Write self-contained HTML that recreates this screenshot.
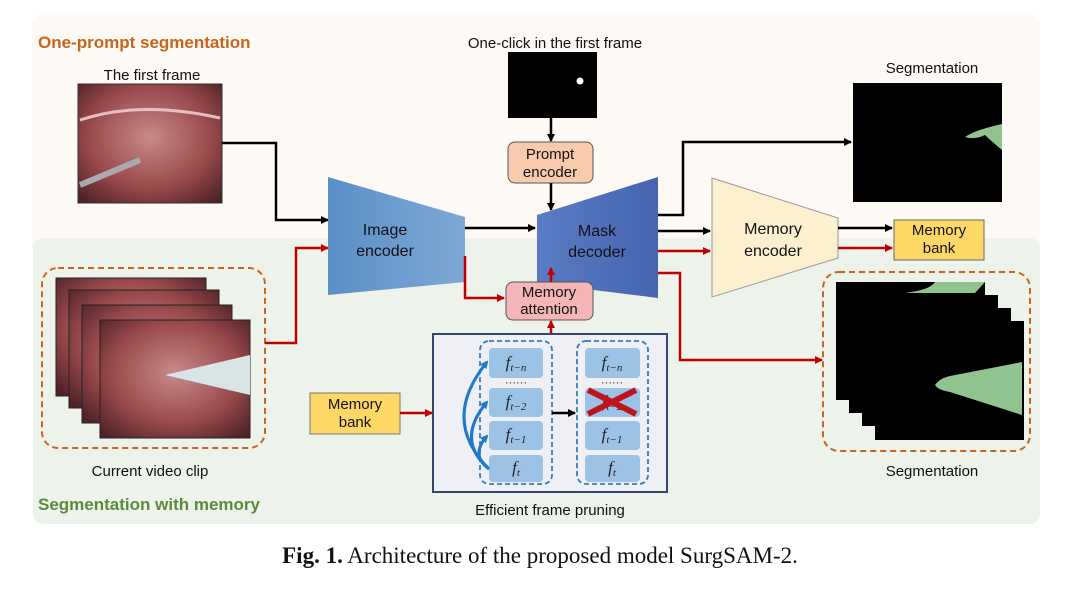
<!DOCTYPE html>
<html><head><meta charset="utf-8"><style>
body{margin:0;background:#fff;}
svg{display:block;}
text{font-family:"Liberation Sans",sans-serif;}
text.serif{font-family:"Liberation Serif",serif;}
</style></head><body>
<svg width="1080" height="589" viewBox="0 0 1080 589" xmlns="http://www.w3.org/2000/svg">
<defs>
<marker id="ab" markerWidth="8" markerHeight="8" refX="7" refY="4" orient="auto" markerUnits="userSpaceOnUse"><path d="M0,0 L8,4 L0,8 z" fill="#000"/></marker>
<marker id="ar" markerWidth="8" markerHeight="8" refX="7" refY="4" orient="auto" markerUnits="userSpaceOnUse"><path d="M0,0 L8,4 L0,8 z" fill="#c00000"/></marker>
<marker id="abl" markerWidth="8" markerHeight="8" refX="6" refY="4" orient="auto" markerUnits="userSpaceOnUse"><path d="M0,0 L8,4 L0,8 z" fill="#1f78c8"/></marker>
<radialGradient id="tis" cx="0.5" cy="0.45" r="0.7"><stop offset="0" stop-color="#c88a8a"/><stop offset="0.6" stop-color="#9a4a4c"/><stop offset="1" stop-color="#4e2226"/></radialGradient>
<linearGradient id="enc" x1="0" y1="0" x2="1" y2="0"><stop offset="0" stop-color="#5b8fc8"/><stop offset="1" stop-color="#7ea8d4"/></linearGradient>
<linearGradient id="dec" x1="0" y1="0" x2="1" y2="0"><stop offset="0" stop-color="#5a7cc4"/><stop offset="1" stop-color="#4565b0"/></linearGradient>
</defs>
<!-- panels -->
<rect x="32" y="15" width="1008" height="240" rx="10" fill="#fdf9f4"/>
<rect x="33" y="238" width="1007" height="286" rx="10" fill="#edf3ea"/>
<text x="38" y="48" font-size="17" font-weight="bold" fill="#c8651c">One-prompt segmentation</text>
<text x="38" y="510" font-size="17" font-weight="bold" fill="#5b8b3a">Segmentation with memory</text>

<!-- first frame -->
<text x="152" y="80" font-size="15" text-anchor="middle" fill="#111">The first frame</text>
<rect x="78" y="84" width="144" height="119" fill="url(#tis)" stroke="#333"/>
<path d="M80,120 Q140,100 220,118" stroke="#e6c0c0" stroke-width="3" fill="none"/>
<path d="M80,185 L140,160" stroke="#aaa" stroke-width="6"/>
<polyline points="222,143 276,143 276,220 328,220" fill="none" stroke="#000" stroke-width="2.5" marker-end="url(#ab)"/>

<!-- video clip -->
<rect x="42" y="268" width="223" height="180" rx="16" fill="none" stroke="#c8651c" stroke-width="2" stroke-dasharray="6,4"/>
<rect x="56" y="278" width="150" height="118" fill="url(#tis)" stroke="#222"/>
<rect x="69" y="290" width="150" height="118" fill="url(#tis)" stroke="#222"/>
<rect x="82" y="305" width="150" height="118" fill="url(#tis)" stroke="#222"/>
<rect x="100" y="320" width="150" height="118" fill="url(#tis)" stroke="#222"/>
<path d="M165,375 L250,355 L250,395 Z" fill="#d8e4e6"/>
<text x="150" y="476" font-size="15" text-anchor="middle" fill="#111">Current video clip</text>
<polyline points="265,343 296,343 296,248 328,248" fill="none" stroke="#c00000" stroke-width="2.5" marker-end="url(#ar)"/>

<!-- image encoder -->
<polygon points="328,177 465,217 465,282 328,295" fill="url(#enc)"/>
<text x="385" y="235" font-size="16" text-anchor="middle" fill="#111">Image</text>
<text x="385" y="256" font-size="16" text-anchor="middle" fill="#111">encoder</text>
<line x1="465" y1="228" x2="535" y2="228" stroke="#000" stroke-width="2.5" marker-end="url(#ab)"/>
<polyline points="465,256 465,298 504,298" fill="none" stroke="#c00000" stroke-width="2.5" marker-end="url(#ar)"/>

<!-- one-click -->
<text x="555" y="48" font-size="15" text-anchor="middle" fill="#111">One-click in the first frame</text>
<rect x="508" y="52" width="89" height="66" fill="#000"/>
<circle cx="580" cy="81" r="3.5" fill="#fff"/>
<line x1="551" y1="118" x2="551" y2="141" stroke="#000" stroke-width="2.5" marker-end="url(#ab)"/>
<rect x="508" y="142" width="85" height="41" rx="7" fill="#f8cbad" stroke="#555"/>
<text x="550" y="159" font-size="15" text-anchor="middle" fill="#111">Prompt</text>
<text x="550" y="177" font-size="15" text-anchor="middle" fill="#111">encoder</text>
<line x1="551" y1="183" x2="551" y2="210" stroke="#000" stroke-width="2.5" marker-end="url(#ab)"/>

<!-- mask decoder -->
<polygon points="537,215 658,177 658,298 537,283" fill="url(#dec)"/>
<text x="597" y="236" font-size="16" text-anchor="middle" fill="#111">Mask</text>
<text x="597" y="257" font-size="16" text-anchor="middle" fill="#111">decoder</text>

<!-- memory attention -->
<rect x="506" y="282" width="87" height="38" rx="7" fill="#f4b6b6" stroke="#555"/>
<text x="549" y="297" font-size="15" text-anchor="middle" fill="#111">Memory</text>
<text x="549" y="314" font-size="15" text-anchor="middle" fill="#111">attention</text>
<line x1="551" y1="282" x2="551" y2="268" stroke="#c00000" stroke-width="2.5" marker-end="url(#ar)"/>
<line x1="551" y1="334" x2="551" y2="321" stroke="#c00000" stroke-width="2.5" marker-end="url(#ar)"/>

<!-- pruning box -->
<rect x="433" y="334" width="234" height="158" fill="#eef0f5" stroke="#34466e" stroke-width="2"/>
<rect x="480" y="341" width="72" height="143" rx="9" fill="none" stroke="#3a78b8" stroke-width="1.8" stroke-dasharray="5,3"/>
<rect x="577" y="341" width="71" height="143" rx="9" fill="none" stroke="#3a78b8" stroke-width="1.8" stroke-dasharray="5,3"/>
<g fill="#9cc3e6">
<rect x="489" y="348" width="54" height="30" rx="4"/><rect x="489" y="388" width="54" height="29" rx="4"/><rect x="489" y="421" width="54" height="29" rx="4"/><rect x="489" y="455" width="54" height="27" rx="4"/>
<rect x="585" y="348" width="55" height="30" rx="4"/><rect x="585" y="388" width="55" height="29" rx="4"/><rect x="585" y="421" width="55" height="29" rx="4"/><rect x="585" y="455" width="55" height="27" rx="4"/>
</g>
<g font-style="italic" font-size="17" fill="#222" text-anchor="middle">
<text class="serif" x="516" y="368">f<tspan font-size="11" dy="3">t−n</tspan></text>
<text class="serif" x="516" y="407">f<tspan font-size="11" dy="3">t−2</tspan></text>
<text class="serif" x="516" y="440">f<tspan font-size="11" dy="3">t−1</tspan></text>
<text class="serif" x="516" y="473">f<tspan font-size="11" dy="3">t</tspan></text>
<text class="serif" x="612" y="368">f<tspan font-size="11" dy="3">t−n</tspan></text>
<text class="serif" x="612" y="407">f<tspan font-size="11" dy="3">t−2</tspan></text>
<text class="serif" x="612" y="440">f<tspan font-size="11" dy="3">t−1</tspan></text>
<text class="serif" x="612" y="473">f<tspan font-size="11" dy="3">t</tspan></text>
</g>
<text x="516" y="386" font-size="11" text-anchor="middle" fill="#222">······</text>
<text x="612" y="386" font-size="11" text-anchor="middle" fill="#222">······</text>
<path d="M588,390 L636,414 M636,390 L588,414" stroke="#c0141c" stroke-width="6"/>
<line x1="552" y1="413" x2="575" y2="413" stroke="#000" stroke-width="2.5" marker-end="url(#ab)"/>
<g fill="none" stroke="#1f78c8" stroke-width="3">
<path d="M489,469 Q440,420 487,362" marker-end="url(#abl)"/>
<path d="M489,469 Q455,440 487,402" marker-end="url(#abl)"/>
<path d="M489,469 Q470,455 487,436" marker-end="url(#abl)"/>
</g>
<text x="550" y="515" font-size="15" text-anchor="middle" fill="#111">Efficient frame pruning</text>

<!-- memory bank left -->
<rect x="310" y="393" width="90" height="41" fill="#fdd866" stroke="#777"/>
<text x="355" y="409" font-size="15" text-anchor="middle" fill="#111">Memory</text>
<text x="355" y="427" font-size="15" text-anchor="middle" fill="#111">bank</text>
<line x1="400" y1="413" x2="432" y2="413" stroke="#c00000" stroke-width="2.5" marker-end="url(#ar)"/>

<!-- outputs -->
<polyline points="658,215 683,215 683,142 851,142" fill="none" stroke="#000" stroke-width="2.5" marker-end="url(#ab)"/>
<line x1="658" y1="231" x2="710" y2="231" stroke="#000" stroke-width="2.5" marker-end="url(#ab)"/>
<line x1="658" y1="251" x2="710" y2="251" stroke="#c00000" stroke-width="2.5" marker-end="url(#ar)"/>
<polyline points="658,273 680,273 680,360 822,360" fill="none" stroke="#c00000" stroke-width="2.5" marker-end="url(#ar)"/>

<!-- segmentation top -->
<text x="932" y="73" font-size="15" text-anchor="middle" fill="#111">Segmentation</text>
<rect x="853" y="83" width="149" height="119" fill="#000"/>
<path d="M965,137 Q975,130 1002,124 L1002,150 Q990,140 985,135 Q975,140 965,137 Z" fill="#8fc48f"/>

<!-- memory encoder -->
<polygon points="712,178 838,218 838,258 712,297" fill="#fdf0cf" stroke="#999"/>
<text x="773" y="234" font-size="16" text-anchor="middle" fill="#111">Memory</text>
<text x="773" y="256" font-size="16" text-anchor="middle" fill="#111">encoder</text>
<line x1="838" y1="228" x2="892" y2="228" stroke="#000" stroke-width="2.5" marker-end="url(#ab)"/>
<line x1="838" y1="248" x2="892" y2="248" stroke="#c00000" stroke-width="2.5" marker-end="url(#ar)"/>
<rect x="894" y="220" width="90" height="40" fill="#fdd866" stroke="#666"/>
<text x="939" y="235" font-size="15" text-anchor="middle" fill="#111">Memory</text>
<text x="939" y="253" font-size="15" text-anchor="middle" fill="#111">bank</text>

<!-- segmentation stack -->
<rect x="823" y="272" width="207" height="179" rx="16" fill="none" stroke="#c8651c" stroke-width="2" stroke-dasharray="6,4"/>
<rect x="836" y="282" width="149" height="118" fill="#000"/>
<rect x="849" y="295" width="149" height="118" fill="#000"/>
<rect x="862" y="308" width="149" height="118" fill="#000"/>
<rect x="875" y="321" width="149" height="119" fill="#000"/>
<path d="M905,293 Q930,290 935,282 L985,282 L975,293 Z" fill="#8fc48f"/>
<path d="M935,385 Q940,378 950,376 L1022,362 L1022,415 L950,392 Q938,390 935,385 Z" fill="#8fc48f"/>
<text x="932" y="476" font-size="15" text-anchor="middle" fill="#111">Segmentation</text>

<!-- caption -->
<text class="serif" x="540" y="563" font-size="23" text-anchor="middle" fill="#111"><tspan font-weight="bold">Fig. 1.</tspan> Architecture of the proposed model SurgSAM-2.</text>
</svg>
</body></html>
